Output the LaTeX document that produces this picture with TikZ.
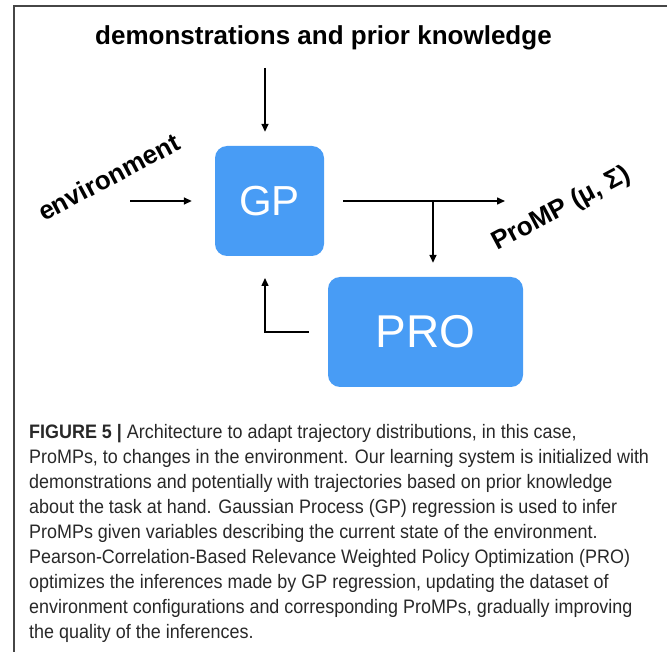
\documentclass[tikz,border=0pt]{standalone}
\usepackage{fontspec}
\setmainfont{Liberation Sans}
\newfontfamily\capfont[FakeStretch=0.92]{Liberation Sans}
\usetikzlibrary{arrows.meta}
\definecolor{boxblue}{RGB}{72,156,245}
\definecolor{framegray}{RGB}{70,70,70}
\definecolor{captext}{RGB}{40,40,40}
\tikzset{
  arr/.style={line width=1.5pt, -{Triangle[length=8pt,width=7pt]}},
  blk/.style={rounded corners=12pt, fill=boxblue, text=white, inner sep=0pt},
  lbl/.style={font=\bfseries\fontsize{26}{26}\selectfont, inner sep=0pt, anchor=base west, rotate=28},
  capline/.style={anchor=base west, inner sep=0pt, font=\capfont\fontsize{19.5}{25}\selectfont, text=captext}
}
\begin{document}
\begin{tikzpicture}[x=1pt,y=-1pt]
\useasboundingbox (0,0) rectangle (667,652);
% frame
\draw[framegray, line width=1.5pt] (14,652) -- (14,6) -- (667,6);
% title
\node[anchor=base west, inner sep=0pt, font=\bfseries\fontsize{26}{26}\selectfont] (title) at (95,45) {demonstrations and prior knowledge};
% boxes
\node[blk, minimum width=109pt, minimum height=110pt, font=\fontsize{42}{42}\selectfont] (gp) at (269.5,201) {GP};
\node[blk, minimum width=195pt, minimum height=110pt, font=\fontsize{46}{46}\selectfont] (pro) at (425.5,332) {PRO};
% labels
\node[lbl] (env) at (44,222) {environment};
\node[lbl] (pm) at (497,251) {ProMP (μ, Σ)};
% connectors
\coordinate (dtop) at (265,68);
\draw[arr, shorten >=14pt] (dtop) -- (dtop |- gp.north);
\coordinate (envstart) at (130,201);
\draw[arr, shorten >=23pt] (envstart) -- (gp.west);
\coordinate (outend) at (505,201);
\draw[arr, shorten <=19pt] (gp.east) -- (outend);
\coordinate (br) at (433,201);
\draw[arr, shorten >=14pt] (br) -- (br |- pro.north);
\coordinate (fbtop) at (265,256);
\draw[arr, shorten <=19pt, shorten >=22pt] (pro.west) -| (fbtop);
% caption
\node[capline] (c1) at (29,438) {{\bfseries FIGURE 5 |} Architecture to adapt trajectory distributions, in this case,};
\node[capline] (c2) at (29,463) {ProMPs, to changes in the environment. Our learning system is initialized with};
\node[capline] (c3) at (29,488) {demonstrations and potentially with trajectories based on prior knowledge};
\node[capline] (c4) at (29,513) {about the task at hand. Gaussian Process (GP) regression is used to infer};
\node[capline] (c5) at (29,538) {ProMPs given variables describing the current state of the environment.};
\node[capline] (c6) at (29,563) {Pearson-Correlation-Based Relevance Weighted Policy Optimization (PRO)};
\node[capline] (c7) at (29,588) {optimizes the inferences made by GP regression, updating the dataset of};
\node[capline] (c8) at (29,613) {environment configurations and corresponding ProMPs, gradually improving};
\node[capline] (c9) at (29,638) {the quality of the inferences.};
\end{tikzpicture}
\end{document}
